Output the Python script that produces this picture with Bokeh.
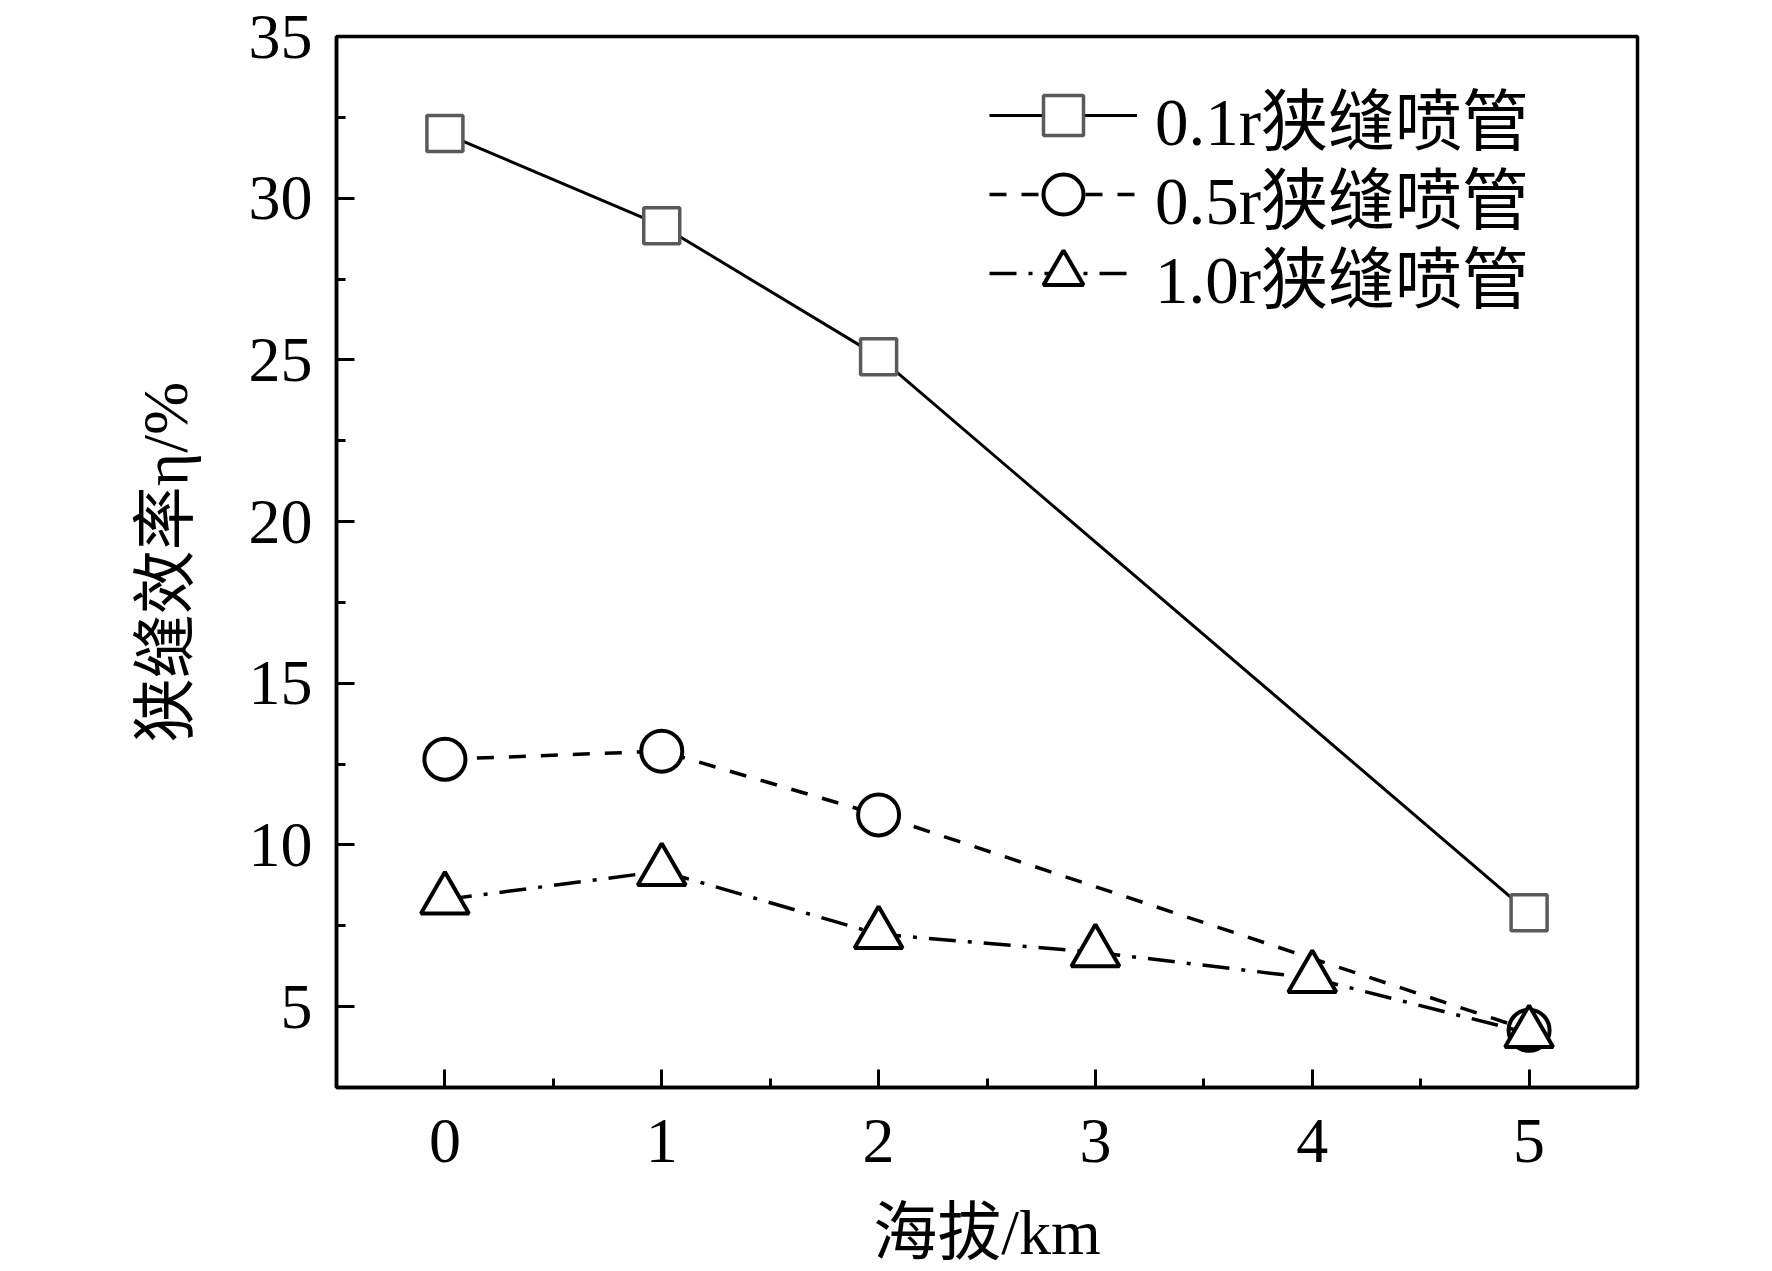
from bokeh.plotting import figure
from bokeh.models import FixedTicker, Legend, LegendItem
from bokeh.embed import file_html
from bokeh.resources import INLINE

# ---- data ----
altitude_01r = [0, 1, 2, 5]
eff_01r = [32.0, 29.15, 25.1, 7.9]

altitude_05r = [0, 1, 2, 5]
eff_05r = [12.65, 12.9, 10.93, 4.27]

altitude_10r = [0, 1, 2, 3, 4, 5]
eff_10r = [8.31, 9.19, 7.24, 6.68, 5.88, 4.18]

x_ticks = [0, 1, 2, 3, 4, 5]
x_minor = [0.5, 1.5, 2.5, 3.5, 4.5]
y_ticks = [5, 10, 15, 20, 25, 30, 35]
y_minor = [7.5, 12.5, 17.5, 22.5, 27.5, 32.5]

series_labels = ["0.1r狭缝喷管", "0.5r狭缝喷管", "1.0r狭缝喷管"]
x_label = "海拔/km"
y_label = "狭缝效率η/%"

FONT = "'Liberation Serif', 'Noto Sans CJK SC'"

FRAME_H = 1051
p = figure(frame_width=1301, frame_height=FRAME_H,
           x_range=(-0.5, 5.5), y_range=(2.5, 35),
           output_backend="svg", toolbar_location=None,
           min_border_left=336, min_border_top=36,
           min_border_right=135, min_border_bottom=183,
           background_fill_color="white", border_fill_color="white")

p.xgrid.visible = False
p.ygrid.visible = False
p.outline_line_color = "black"
p.outline_line_width = 3.5
p.outline_line_alpha = 1.0

p.xaxis.ticker = FixedTicker(ticks=x_ticks, minor_ticks=x_minor)
p.yaxis.ticker = FixedTicker(ticks=y_ticks, minor_ticks=y_minor)

for ax in (p.xaxis[0], p.yaxis[0]):
    ax.axis_line_width = 3.5
    ax.axis_line_color = "black"
    ax.major_tick_line_width = 3
    ax.minor_tick_line_width = 3
    ax.major_tick_line_color = "black"
    ax.minor_tick_line_color = "black"
    ax.major_tick_in = 18
    ax.major_tick_out = 0
    ax.minor_tick_in = 9
    ax.minor_tick_out = 0
    ax.major_label_text_font = FONT
    ax.major_label_text_font_size = "64px"
    ax.major_label_text_color = "black"
    ax.axis_label_text_font = FONT
    ax.axis_label_text_font_size = "64px"
    ax.axis_label_text_font_style = "normal"
    ax.axis_label_text_color = "black"

p.xaxis.axis_label = x_label
p.yaxis.axis_label = y_label
p.xaxis.major_label_standoff = 32
p.yaxis.major_label_standoff = 24
p.xaxis.axis_label_standoff = 32
p.yaxis.axis_label_standoff = 45

l1 = p.line(altitude_01r, eff_01r, line_color="black", line_width=3)
m1 = p.scatter(altitude_01r, eff_01r, marker="square", size=36,
               fill_color="white", line_color="#5a5a5a", line_width=3.5)
l2 = p.line(altitude_05r, eff_05r, line_color="black", line_width=3.5,
            line_dash="17 15")
m2 = p.scatter(altitude_05r, eff_05r, marker="circle", size=41,
               fill_color="white", line_color="black", line_width=4)
l3 = p.line(altitude_10r, eff_10r, line_color="black", line_width=3.5,
            line_dash="27 12 4 12")
m3 = p.scatter(altitude_10r, eff_10r, marker="triangle", size=48,
               fill_color="white", line_color="black", line_width=4)

# one legend per row, so that the rows can be spaced as in the reference
row_tops = [29, 108, 187]  # in frame pixels from the top of the frame
for lab, rends, top in zip(series_labels, [[l1, m1], [l2, m2], [l3, m3]], row_tops):
    lg = Legend(
        items=[LegendItem(label=lab, renderers=rends)],
        location=(653, FRAME_H - top - 100),
        glyph_width=148, glyph_height=100, label_height=100,
        spacing=0, padding=0, margin=0, label_standoff=18,
        label_text_font=FONT, label_text_font_size="67px",
        label_text_color="black",
        background_fill_alpha=0, border_line_alpha=0,
    )
    p.add_layout(lg)

open("out.html", "w").write(file_html(p, INLINE))
